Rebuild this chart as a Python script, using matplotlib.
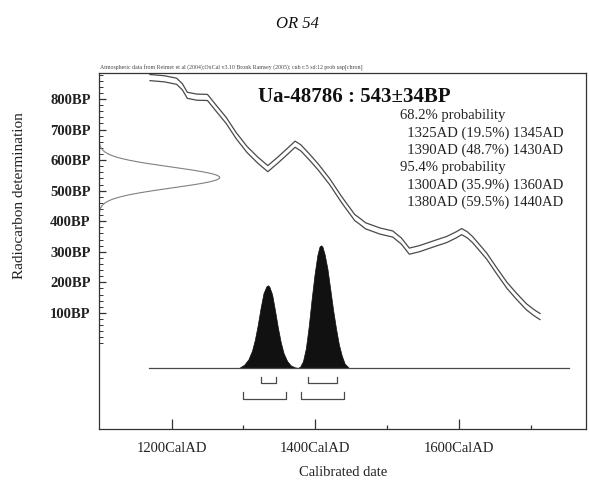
import matplotlib
matplotlib.use('Agg')
import matplotlib.pyplot as plt
import numpy as np

plt.rcParams['font.family'] = ['Liberation Serif', 'DejaVu Serif']

# --- data ---
lab_code = 'Ua-48786'
bp_mean = 543
bp_sigma = 34

# calibration curve (midline), calendar year AD vs BP
curve_years = [1170, 1190, 1207, 1215, 1222, 1235, 1250, 1262, 1276, 1290, 1305, 1320,
               1334, 1348, 1362, 1372, 1380, 1392, 1404, 1420, 1437, 1455, 1462, 1470,
               1490, 1508, 1520, 1531, 1545, 1555, 1570, 1583, 1596, 1604, 1612, 1619,
               1630, 1639, 1652, 1667, 1680, 1694, 1705, 1713]
curve_bp = [870, 866, 858, 840, 812, 806, 805, 770, 730, 680, 635, 600,
            572, 600, 630, 652, 640, 610, 578, 530, 470, 412, 400, 385,
            368, 358, 335, 302, 310, 318, 330, 340, 355, 366, 355, 340,
            310, 285, 240, 190, 155, 120, 100, 88]
curve_err = 10

# calibrated probability (relative height)
prob_years = [1294, 1301, 1307, 1312, 1316, 1320, 1324, 1328, 1332, 1334, 1336, 1340, 1344,
              1348, 1352, 1356, 1361, 1366, 1372, 1376,
              1379, 1383, 1387, 1391, 1395, 1399, 1403, 1406, 1408, 1410, 1413, 1417, 1421,
              1425, 1429, 1433, 1437, 1441, 1447]
prob_rel = [0.0, 0.025, 0.07, 0.14, 0.23, 0.35, 0.49, 0.61, 0.665, 0.674, 0.665, 0.60, 0.47,
            0.33, 0.21, 0.12, 0.055, 0.02, 0.004, 0.0,
            0.01, 0.055, 0.16, 0.34, 0.56, 0.76, 0.92, 0.99, 1.0, 0.99, 0.93, 0.81, 0.64,
            0.47, 0.32, 0.19, 0.10, 0.035, 0.0]

range_68 = [(1325, 1345), (1390, 1430)]
range_95 = [(1300, 1360), (1380, 1440)]
range_68_pct = ['19.5%', '48.7%']
range_95_pct = ['35.9%', '59.5%']

xticks_major = [1200, 1400, 1600]
xticks_minor = [1300, 1500, 1700]
yticks_major = [100, 200, 300, 400, 500, 600, 700, 800]

# --- figure ---
fig = plt.figure(figsize=(5.89, 4.82), dpi=100)
ax = fig.add_axes([99/589, 1 - 429/482, 487/589, 356/482])
ax.set_xlim(1099, 1777)
ax.set_ylim(-280, 885)

grey = '#4a4a4a'

# radiocarbon determination on the y axis
bp = np.linspace(bp_mean - 4*bp_sigma, bp_mean + 4*bp_sigma, 200)
dens = np.exp(-0.5*((bp - bp_mean)/bp_sigma)**2)
ax.plot(1099 + 168*dens, bp, color='#808080', lw=0.8)

# calibration curve, drawn as a double line
cy = np.array(curve_bp)
ax.plot(curve_years, cy + curve_err, color=grey, lw=0.9)
ax.plot(curve_years, cy - curve_err, color=grey, lw=0.9)

# calibrated distribution
base = -80
scale = 401
ax.plot([1169, 1754], [base, base], color=grey, lw=0.9)
ax.fill_between(prob_years, base, base + scale*np.array(prob_rel), color='#111111', lw=0.5,
                edgecolor='#111111')

# range brackets
def bracket(r, top, bot):
    a, b = r
    ax.plot([a, a, b, b], [top, bot, bot, top], color=grey, lw=0.9)

for r in range_68:
    bracket(r, -109, -129)
for r in range_95:
    bracket(r, -158, -181)

# axes styling
for s in ax.spines.values():
    s.set_color('#333333')
    s.set_linewidth(0.9)
ax.set_xticks(xticks_major)
ax.set_xticklabels([f'{t}CalAD' for t in xticks_major])
ax.set_xticks(xticks_minor, minor=True)
ax.set_yticks(yticks_major)
ax.set_yticklabels([f'{t}BP' for t in yticks_major])
ax.set_yticks(np.arange(0, 881, 20), minor=True)
ax.tick_params(axis='x', which='major', direction='in', length=7, width=0.9, pad=9,
               labelsize=10.5, colors='#333333', labelcolor='#222222')
ax.tick_params(axis='x', which='minor', direction='in', length=3, width=0.9, colors='#333333')
ax.tick_params(axis='y', which='major', direction='in', length=5, width=0.9, pad=6,
               labelsize=10.5, colors='#333333', labelcolor='#222222')
ax.tick_params(axis='y', which='minor', direction='in', length=3, width=0.7, colors='#333333')
for lbl in ax.get_yticklabels():
    lbl.set_fontweight('bold')

# texts
fig.text(297/589, 1 - 24/482, 'OR 54', ha='center', va='center', fontsize=12,
         style='italic', color='#111111')
fig.text(100/589, 1 - 68/482,
         'Atmospheric data from Reimer et al (2004);OxCal v3.10 Bronk Ramsey (2005); '
         'cub r:5 sd:12 prob usp[chron]',
         ha='left', va='center', fontsize=4.2, color='#444444')
fig.text(20/589, 1 - 196/482, 'Radiocarbon determination', rotation=90,
         ha='center', va='center', fontsize=11, color='#222222')
fig.text(343/589, 1 - 473/482, 'Calibrated date', ha='center', va='center',
         fontsize=10.5, color='#222222')

ax.text((258 - 99)/487, 0.932, f'{lab_code} : {bp_mean}\u00b1{bp_sigma}BP', transform=ax.transAxes,
        ha='left', va='center', fontsize=15, fontweight='bold', color='#111111')

lines = ['68.2% probability']
for (a, b), p in zip(range_68, range_68_pct):
    lines.append(f'  {a}AD ({p}) {b}AD')
lines.append('95.4% probability')
for (a, b), p in zip(range_95, range_95_pct):
    lines.append(f'  {a}AD ({p}) {b}AD')
for i, t in enumerate(lines):
    ypx = 116 + 17.2*i
    fig.text(400/589, 1 - ypx/482, t, ha='left', va='center', fontsize=10.5, color='#222222')

fig.savefig('out.png', dpi=100)
